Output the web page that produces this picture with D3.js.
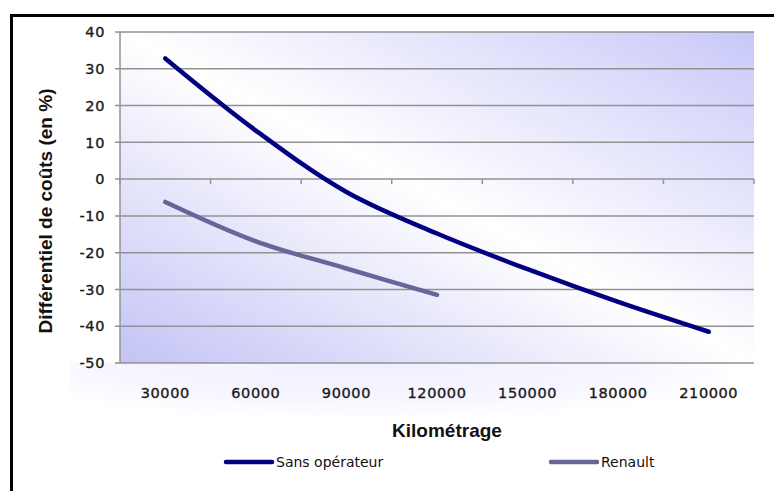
<!DOCTYPE html>
<html>
<head>
<meta charset="utf-8">
<script src="https://cdn.jsdelivr.net/npm/d3@7"></script>
<style>
  body { margin: 0; background: #fff; }
  svg { display: block; }
  .tick-label { font-family: "DejaVu Sans", sans-serif; font-size: 14.5px; fill: #1a1a1a; stroke: #1a1a1a; stroke-width: 0.35px; letter-spacing: 0.6px; }
</style>
</head>
<body>
<div id="chart"></div>
<script>
const categories = [30000, 60000, 90000, 120000, 150000, 180000, 210000];
const sansOperateur = [32.8, 13.2, -3.5, -14.8, -24.5, -33.4, -41.5];
const renault = [-6.2, -16.9, -24.3, -31.5];
const yTicks = [40, 30, 20, 10, 0, -10, -20, -30, -40, -50];
const seriesNames = ["Sans opérateur", "Renault"];
const seriesColors = ["#000080", "#666699"];

const W = 774, H = 491;
const plot = { left: 120, right: 754, top: 32, bottom: 363 };

const svg = d3.select("#chart").append("svg").attr("width", W).attr("height", H);
const defs = svg.append("defs");

const grad = defs.append("linearGradient").attr("id", "plotGrad")
  .attr("x1", 0).attr("y1", 1).attr("x2", 1).attr("y2", 0);
grad.append("stop").attr("offset", 0).attr("stop-color", "#c3c3f6");
grad.append("stop").attr("offset", 0.5).attr("stop-color", "#ffffff");
grad.append("stop").attr("offset", 1).attr("stop-color", "#c8c8f9");

const areaGrad = defs.append("radialGradient").attr("id", "areaGrad")
  .attr("cx", 0.45).attr("cy", 0).attr("r", 0.6);
areaGrad.append("stop").attr("offset", 0).attr("stop-color", "#efeefd");
areaGrad.append("stop").attr("offset", 0.7).attr("stop-color", "#f8f7ff");
areaGrad.append("stop").attr("offset", 1).attr("stop-color", "#ffffff");

// faint chart-area tint under the plot
svg.append("rect")
  .attr("x", 70).attr("y", plot.bottom)
  .attr("width", 660).attr("height", 95)
  .attr("fill", "url(#areaGrad)");

svg.append("rect")
  .attr("x", plot.left).attr("y", plot.top)
  .attr("width", plot.right - plot.left).attr("height", plot.bottom - plot.top)
  .attr("fill", "url(#plotGrad)");

const x = d3.scaleBand().domain(categories).range([plot.left, plot.right]);
const y = d3.scaleLinear().domain([-50, 40]).range([plot.bottom, plot.top]);
const cx = (c) => x(c) + x.bandwidth() / 2;

// gridlines
svg.append("g")
  .selectAll("line")
  .data(yTicks)
  .enter()
  .append("line")
  .attr("x1", plot.left - 5)
  .attr("x2", plot.right)
  .attr("y1", (d) => y(d))
  .attr("y2", (d) => y(d))
  .attr("stroke", "#929292")
  .attr("stroke-width", 1.5);

// y axis line
svg.append("line")
  .attr("x1", plot.left).attr("x2", plot.left)
  .attr("y1", plot.top).attr("y2", plot.bottom)
  .attr("stroke", "#929292").attr("stroke-width", 1.5);

// y tick labels
svg.append("g")
  .selectAll("text")
  .data(yTicks)
  .enter()
  .append("text")
  .attr("class", "tick-label")
  .attr("x", 105)
  .attr("y", (d) => y(d))
  .attr("dy", "0.36em")
  .attr("text-anchor", "end")
  .text((d) => d);

// x axis ticks on the zero line
const xBounds = categories.map((c) => x(c)).concat([x.range()[1]]);
svg.append("g")
  .selectAll("line")
  .data(xBounds)
  .enter()
  .append("line")
  .attr("x1", (d) => d).attr("x2", (d) => d)
  .attr("y1", y(0)).attr("y2", y(0) + 5)
  .attr("stroke", "#929292").attr("stroke-width", 1.5);

// x tick labels (low position)
svg.append("g")
  .selectAll("text")
  .data(categories)
  .enter()
  .append("text")
  .attr("class", "tick-label")
  .attr("x", (d) => cx(d))
  .attr("y", 398)
  .attr("text-anchor", "middle")
  .text((d) => d);

const line = d3.line()
  .x((d) => cx(d[0]))
  .y((d) => y(d[1]))
  .curve(d3.curveCatmullRom.alpha(0.5));

[sansOperateur, renault].forEach(function (vals, i) {
  svg.append("path")
    .datum(vals.map((v, j) => [categories[j], v]))
    .attr("fill", "none")
    .attr("stroke", seriesColors[i])
    .attr("stroke-width", 4.5)
    .attr("stroke-linecap", "round")
    .attr("d", line);
});

// axis titles
svg.append("text")
  .attr("transform", "translate(52,211) rotate(-90)")
  .attr("text-anchor", "middle")
  .attr("font-family", "Liberation Sans, Arial, sans-serif")
  .attr("font-weight", "bold")
  .attr("font-size", 19)
  .attr("fill", "#111")
  .text("Différentiel de coûts (en %)");

svg.append("text")
  .attr("x", 447)
  .attr("y", 437)
  .attr("text-anchor", "middle")
  .attr("font-family", "Liberation Sans, Arial, sans-serif")
  .attr("font-weight", "bold")
  .attr("font-size", 19)
  .attr("fill", "#111")
  .text("Kilométrage");

// legend
const legendX = [226, 551];
const legend = svg.append("g")
  .selectAll("g")
  .data(seriesNames)
  .enter()
  .append("g")
  .attr("transform", (d, i) => "translate(" + legendX[i] + ",462)");
legend.append("line")
  .attr("x1", 0).attr("x2", 46)
  .attr("stroke", (d, i) => seriesColors[i])
  .attr("stroke-width", 4.5)
  .attr("stroke-linecap", "round");
legend.append("text")
  .attr("x", 50)
  .attr("dy", "0.36em")
  .attr("font-family", "DejaVu Sans, sans-serif")
  .attr("font-size", 14)
  .attr("fill", "#111")
  .text((d) => d);

// outer frame (left and top edges)
svg.append("path")
  .attr("d", "M11.5,491V15.5H774")
  .attr("fill", "none")
  .attr("stroke", "#000")
  .attr("stroke-width", 3);
</script>
</body>
</html>
